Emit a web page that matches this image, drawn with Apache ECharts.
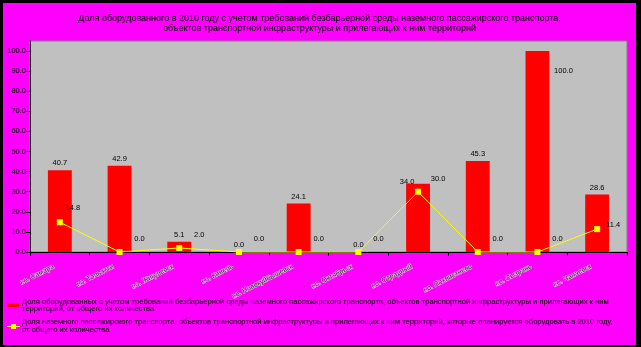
<!DOCTYPE html>
<html lang="ru">
<head>
<meta charset="utf-8">
<title>Доля оборудованного в 2010 году транспорта</title>
<script src="https://cdn.jsdelivr.net/npm/echarts@6/dist/echarts.min.js"></script>
<style>
  html, body { margin: 0; padding: 0; background: #000; }
  body { width: 641px; height: 347px; position: relative; overflow: hidden; }
  #chart { position: absolute; left: 3px; top: 3px; width: 633px; height: 342px; background: #FF00FF; }
</style>
</head>
<body>
<div id="chart"></div>
<script>
// Городские округа
const cities = [
  'г.о. Самара', 'г.о. Тольятти', 'г.о. Жигулевск', 'г.о. Кинель',
  'г.о. Новокуйбышевск', 'г.о. Октябрьск', 'г.о. Отрадный',
  'г.о. Похвистнево', 'г.о. Сызрань', 'г.о. Чапаевск'
];

// Доля оборудованных объектов, %
const equippedShare = [40.7, 42.9, 5.1, 0.0, 24.1, 0.0, 34.0, 45.3, 100.0, 28.6];

// Доля объектов, которые планируется оборудовать в 2010 году, %
const plannedShare = [14.8, 0.0, 2.0, 0.0, 0.0, 0.0, 30.0, 0.0, 0.0, 11.4];

// Деления оси значений
const valueTicks = [0, 10, 20, 30, 40, 50, 60, 70, 80, 90, 100];

// Подписи рядов, разбитые на строки для легенды
const seriesLegendLines = [
  ['Доля оборудованных с учетом требований безбарьерной среды наземного пассажирского транспорта, объектов транспортной инфраструктуры и прилегающих к ним',
   'территорий, от общего их количества'],
  ['Доля наземного пассажирского транспорта, объектов транспортной инфраструктуры и прилегающих к ним территорий, которые планируется оборудовать в 2010 году,',
   'от общего их количества']
];
const seriesNames = seriesLegendLines.map(l => l.join(' '));

const titleText = 'Доля оборудованного в 2010 году с учетом требований безбарьерной среды наземного пассажирского транспорта,\nобъектов транспортной инфраструктуры и прилегающих к ним территорий';

const FONT = 'Liberation Sans, Arial, sans-serif';
const RED = '#FF0000';
const YELLOW = '#FFFF00';

// Сдвиги подписей, которые иначе налезают на соседние
const barLabelShift = { 6: [-11, 5], 8: [26, 27] };
const lineLabelShift = { 0: [-7, -1], 9: [-4, 9] };

const fmt = v => Number(v).toFixed(1);

const barData = equippedShare.map((v, i) => {
  const item = { value: v };
  if (barLabelShift[i]) item.label = { offset: barLabelShift[i] };
  return item;
});
const lineData = plannedShare.map((v, i) => {
  const item = { value: v };
  if (lineLabelShift[i]) item.label = { offset: [20 + lineLabelShift[i][0], -13 + lineLabelShift[i][1]] };
  return item;
});

// Легенда внизу: маркер ряда и текст в две строки
const legendText = (lines, y) => ({
  type: 'text',
  x: 19,
  y: y,
  style: {
    text: lines.join('\n'),
    fontFamily: FONT,
    fontSize: 7.6,
    lineHeight: 7.7,
    fill: '#000',
    verticalAlign: 'middle'
  }
});

const legendGraphics = [
  { type: 'rect', shape: { x: 4, y: 300, width: 12, height: 4 }, style: { fill: RED } },
  legendText(seriesLegendLines[0], 302.3),
  { type: 'line', shape: { x1: 4, y1: 323.5, x2: 17, y2: 323.5 }, style: { stroke: YELLOW, lineWidth: 1 } },
  { type: 'rect', shape: { x: 8, y: 321, width: 5, height: 5 }, style: { fill: YELLOW } },
  legendText(seriesLegendLines[1], 323.2)
];

const chart = echarts.init(document.getElementById('chart'), null, { renderer: 'canvas' });

chart.setOption({
  backgroundColor: '#FF00FF',
  animation: false,
  textStyle: { fontFamily: FONT },
  title: {
    text: titleText,
    left: 'center',
    top: 6,
    textStyle: { fontFamily: FONT, fontSize: 9, fontWeight: 'normal', color: '#000', lineHeight: 10 }
  },
  grid: {
    left: 27, right: 9, top: 38, bottom: 93,
    show: true, backgroundColor: '#C0C0C0', borderColor: '#808080', borderWidth: 1
  },
  legend: { show: false, data: seriesNames },
  graphic: legendGraphics,
  xAxis: {
    type: 'category',
    data: cities,
    axisLine: { lineStyle: { color: '#000', width: 1 } },
    axisTick: { show: true, length: 4, lineStyle: { color: '#000' } },
    axisLabel: {
      interval: 0,
      rotate: 27,
      margin: 11,
      padding: [0, 7, 0, 0],
      fontFamily: FONT,
      fontSize: 7,
      color: '#202020',
      textBorderColor: 'rgba(255,255,255,0.75)',
      textBorderWidth: 1
    }
  },
  yAxis: {
    type: 'value',
    min: 0,
    max: 105,
    splitLine: { show: false },
    axisLine: { show: true, lineStyle: { color: '#000', width: 1 } },
    axisTick: { show: true, length: 4, customValues: valueTicks, lineStyle: { color: '#000' } },
    axisLabel: {
      customValues: valueTicks,
      formatter: v => fmt(v),
      margin: 4,
      fontFamily: FONT,
      fontSize: 7.5,
      color: '#000'
    }
  },
  series: [
    {
      name: seriesNames[0],
      type: 'bar',
      data: barData,
      barWidth: '40%',
      itemStyle: { color: RED },
      label: {
        show: true,
        position: 'top',
        distance: 3,
        formatter: p => fmt(p.value),
        fontFamily: FONT,
        fontSize: 7.5,
        color: '#000'
      },
      z: 2
    },
    {
      name: seriesNames[1],
      type: 'line',
      data: lineData,
      clip: false,
      symbol: 'rect',
      symbolSize: 6,
      lineStyle: { color: YELLOW, width: 1 },
      itemStyle: { color: YELLOW },
      label: {
        show: true,
        position: 'inside',
        offset: [20, -13],
        formatter: p => fmt(p.value),
        fontFamily: FONT,
        fontSize: 7.5,
        color: '#000'
      },
      z: 3
    }
  ]
});
</script>
</body>
</html>
